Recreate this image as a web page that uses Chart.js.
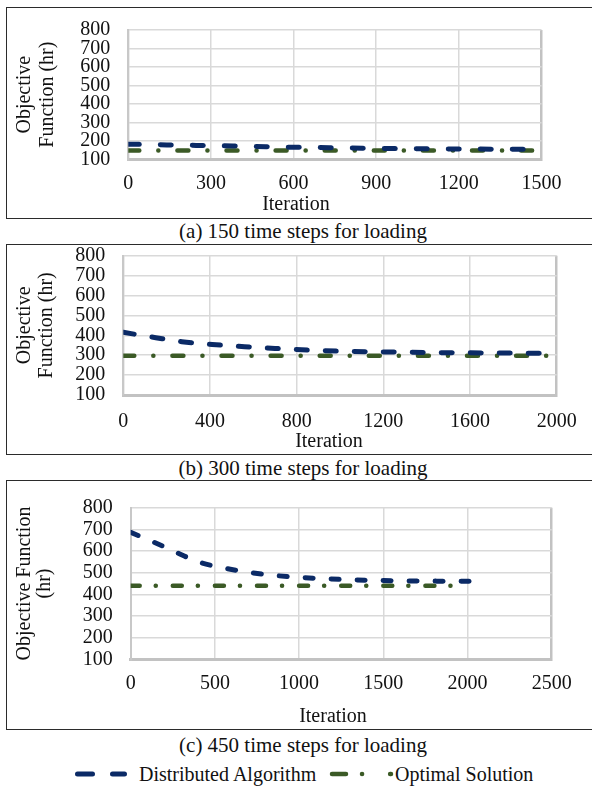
<!DOCTYPE html>
<html>
<head>
<meta charset="utf-8">
<script src="https://cdn.jsdelivr.net/npm/chart.js@4.4.1/dist/chart.umd.min.js"></script>
<style>
  body { margin: 0; background: #fff; font-family: "Liberation Serif", "Times New Roman", serif; color: #111; }
  #page { position: relative; width: 592px; height: 787px; overflow: hidden; }
  .box { position: absolute; left: 6px; width: 600px; border: 1.5px solid #2b2b2b; box-sizing: border-box; }
  .wrap { position: absolute; left: 7px; width: 585px; }
  .cap { position: absolute; left: 6px; width: 594px; text-align: center; font-size: 21px; line-height: 22px; }
  .xt { position: absolute; font-size: 20px; line-height: 22px; transform: translateX(-50%); white-space: nowrap; }
  .lg { position: absolute; font-size: 20px; line-height: 22px; white-space: nowrap; }
</style>
</head>
<body>
<div id="page">
  <div class="box" style="top:6.5px;height:212px"></div>
  <div class="wrap" style="top:8px;height:209px"><canvas id="chartA"></canvas></div>
  <div class="xt" style="left:296px;top:192px">Iteration</div>
  <div class="cap" style="top:219.5px">(a) 150 time steps for loading</div>

  <div class="box" style="top:243.5px;height:211px"></div>
  <div class="wrap" style="top:245px;height:208px"><canvas id="chartB"></canvas></div>
  <div class="xt" style="left:329px;top:429px">Iteration</div>
  <div class="cap" style="top:457px">(b) 300 time steps for loading</div>

  <div class="box" style="top:479.5px;height:250px"></div>
  <div class="wrap" style="top:481px;height:247px"><canvas id="chartC"></canvas></div>
  <div class="xt" style="left:333px;top:704px">Iteration</div>
  <div class="cap" style="top:734px">(c) 450 time steps for loading</div>

  <svg style="position:absolute;left:0;top:764px" width="592" height="20">
    <line x1="77.5" y1="10" x2="124.5" y2="10" stroke="#0b2a66" stroke-width="5" stroke-linecap="round" stroke-dasharray="15 20"/>
    <line x1="332" y1="10" x2="391" y2="10" stroke="#3b5a26" stroke-width="4.5" stroke-linecap="round" stroke-dasharray="14 16 0.1 28"/>
  </svg>
  <div class="lg" style="left:139px;top:763px">Distributed Algorithm</div>
  <div class="lg" style="left:395px;top:763px">Optimal Solution</div>
</div>

<script>
// (a) 150 time steps for loading
var iterA = [0, 140, 260, 380, 500, 610, 730, 850, 960, 1080, 1200, 1320, 1440, 1470];
var distA = [182, 178, 175, 172, 168, 165, 163, 160, 158, 157, 156, 155, 154, 154];
var optIterA = [0, 1500];
var optA = [147, 147];

// (b) 300 time steps for loading
var iterB = [0, 150, 270, 410, 560, 700, 850, 1000, 1150, 1300, 1450, 1600, 1750, 1900, 1950];
var distB = [415, 388, 368, 354, 343, 334, 326, 320, 317, 315, 313, 312, 311, 310, 309];
var optIterB = [0, 1960];
var optB = [297, 297];

// (c) 450 time steps for loading
var iterC = [0, 110, 215, 295, 400, 545, 690, 845, 1005, 1165, 1320, 1475, 1640, 1810, 2020];
var distC = [686, 650, 614, 585, 550, 523, 503, 488, 478, 472, 467, 464, 462, 461, 460];
var optIterC = [0, 2000];
var optC = [440, 440];

var yTicks = [100, 200, 300, 400, 500, 600, 700, 800];

var blue = '#0b2a66';
var green = '#3b5a26';

Chart.defaults.font.family = '"Liberation Serif", "Times New Roman", serif';
Chart.defaults.color = '#111';

function points(xs, ys) {
    return xs.map(function (x, i) { return { x: x, y: ys[i] }; });
}

function buildChart(id, p) {
    return new Chart(document.getElementById(id), {
        type: 'line',
        data: {
            datasets: [{
                label: 'Distributed Algorithm',
                data: points(p.iter, p.dist),
                borderColor: blue,
                borderWidth: 5,
                borderDash: p.blueDash,
                borderCapStyle: 'round',
                pointRadius: 0,
                tension: 0.4,
                cubicInterpolationMode: 'monotone',
                fill: false
            },
            {
                label: 'Optimal Solution',
                data: points(p.optIter, p.opt),
                borderColor: green,
                borderWidth: 4.5,
                borderDash: p.greenDash,
                borderCapStyle: 'round',
                pointRadius: 0,
                fill: false
            }]
        },
        options: {
            responsive: true,
            maintainAspectRatio: false,
            animation: false,
            layout: { padding: p.pad },
            plugins: {
                legend: { display: false },
                tooltip: { enabled: false }
            },
            scales: {
                x: {
                    type: 'linear',
                    min: 0,
                    max: p.xMax,
                    ticks: {
                        stepSize: p.xStep,
                        padding: p.xPad,
                        autoSkip: false,
                        maxRotation: 0,
                        font: { size: 20 },
                        callback: function (v) { return String(v); }
                    },
                    grid: {
                        drawTicks: false,
                        color: function (ctx) { return ctx.tick && ctx.tick.value === p.xMax ? '#c2c2c2' : '#d9d9d9'; },
                        lineWidth: function (ctx) { return ctx.tick && ctx.tick.value === p.xMax ? 2.5 : 1.5; }
                    },
                    border: { color: '#c2c2c2', width: 3 },
                    afterFit: function (s) {
                        s.height = 40;
                        s.paddingLeft = 0;
                        s.paddingRight = 0;
                    }
                },
                y: {
                    min: yTicks[0],
                    max: yTicks[yTicks.length - 1],
                    ticks: {
                        stepSize: 100,
                        padding: 18,
                        autoSkip: false,
                        font: { size: 20, lineHeight: 1 },
                        callback: function (v) { return String(v); }
                    },
                    grid: { drawTicks: false, color: '#d9d9d9', lineWidth: 1.5 },
                    border: { color: '#c8c8c8', width: 2 },
                    title: {
                        display: true,
                        text: p.yTitle,
                        color: '#111',
                        font: { size: 20, lineHeight: p.yTitleLH },
                        padding: { top: p.yTitlePad, bottom: 0 }
                    },
                    afterFit: function (s) {
                        // keep the plot area where the layout padding puts it
                        s.width = p.yWidth;
                        s.paddingTop = 0;
                        s.paddingBottom = 0;
                    }
                }
            }
        }
    });
}

var chartA = buildChart('chartA', {
    iter: iterA, dist: distA, optIter: optIterA, opt: optA,
    xMax: 1500, xStep: 300, xPad: 12.7,
    pad: { left: 0, top: 22, right: 50.5, bottom: 17.7 },
    yWidth: 121.3, yTitle: ['Objective', 'Function (hr)'], yTitleLH: 1.15, yTitlePad: 6.5,
    blueDash: [11, 21], greenDash: [11, 19, 0.1, 19]
});

var chartB = buildChart('chartB', {
    iter: iterB, dist: distB, optIter: optIterB, opt: optB,
    xMax: 2000, xStep: 400, xPad: 14.7,
    pad: { left: 0, top: 10.7, right: 35.3, bottom: 18 },
    yWidth: 116.3, yTitle: ['Objective', 'Function (hr)'], yTitleLH: 1.1, yTitlePad: 6.5,
    blueDash: [11, 18], greenDash: [11, 19, 0.1, 19]
});

var chartC = buildChart('chartC', {
    iter: iterC, dist: distC, optIter: optIterC, opt: optC,
    xMax: 2500, xStep: 500, xPad: 12.7,
    pad: { left: 0, top: 26.7, right: 40.3, bottom: 28.7 },
    yWidth: 123.7, yTitle: ['Objective Function', '(hr)'], yTitleLH: 1.0, yTitlePad: 8,
    blueDash: [8, 18], greenDash: [9, 16, 0.1, 17]
});
</script>
</body>
</html>
